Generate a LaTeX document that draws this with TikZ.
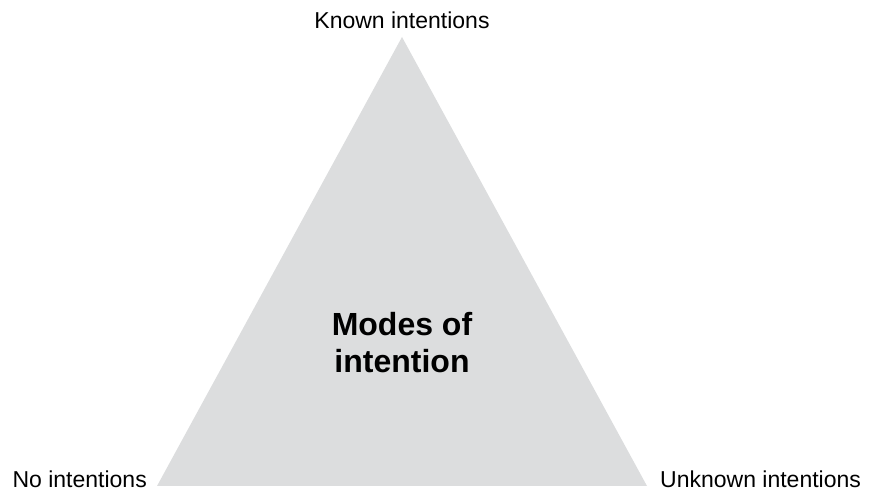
\documentclass[tikz,border=0pt]{standalone}
\usepackage{fontspec}
\setmainfont{Liberation Sans}
\usepackage{tikz}
\definecolor{modegray}{RGB}{220,221,222}

\begin{document}
\begin{tikzpicture}[x=1pt,y=1pt]
\useasboundingbox (0,0) rectangle (871,493);
\coordinate (top) at (402,456);
\coordinate (left) at (157,7);
\coordinate (right) at (647,7);
\fill[modegray] (top)--(left)--(right)--cycle;
\node[anchor=base,inner sep=0] (known) at (402,464) {\fontsize{23}{28}\selectfont Known intentions};
\node[anchor=base east,inner sep=0] (none) at (147,5) {\fontsize{23}{28}\selectfont No intentions};
\node[anchor=base west,inner sep=0] (unknown) at (660,5) {\fontsize{23}{28}\selectfont Unknown intentions};
\node[anchor=base,inner sep=0,align=center,font=\fontsize{32}{37}\selectfont\bfseries] (modes) at (402,120) {Modes of\\intention};
\end{tikzpicture}
\end{document}
